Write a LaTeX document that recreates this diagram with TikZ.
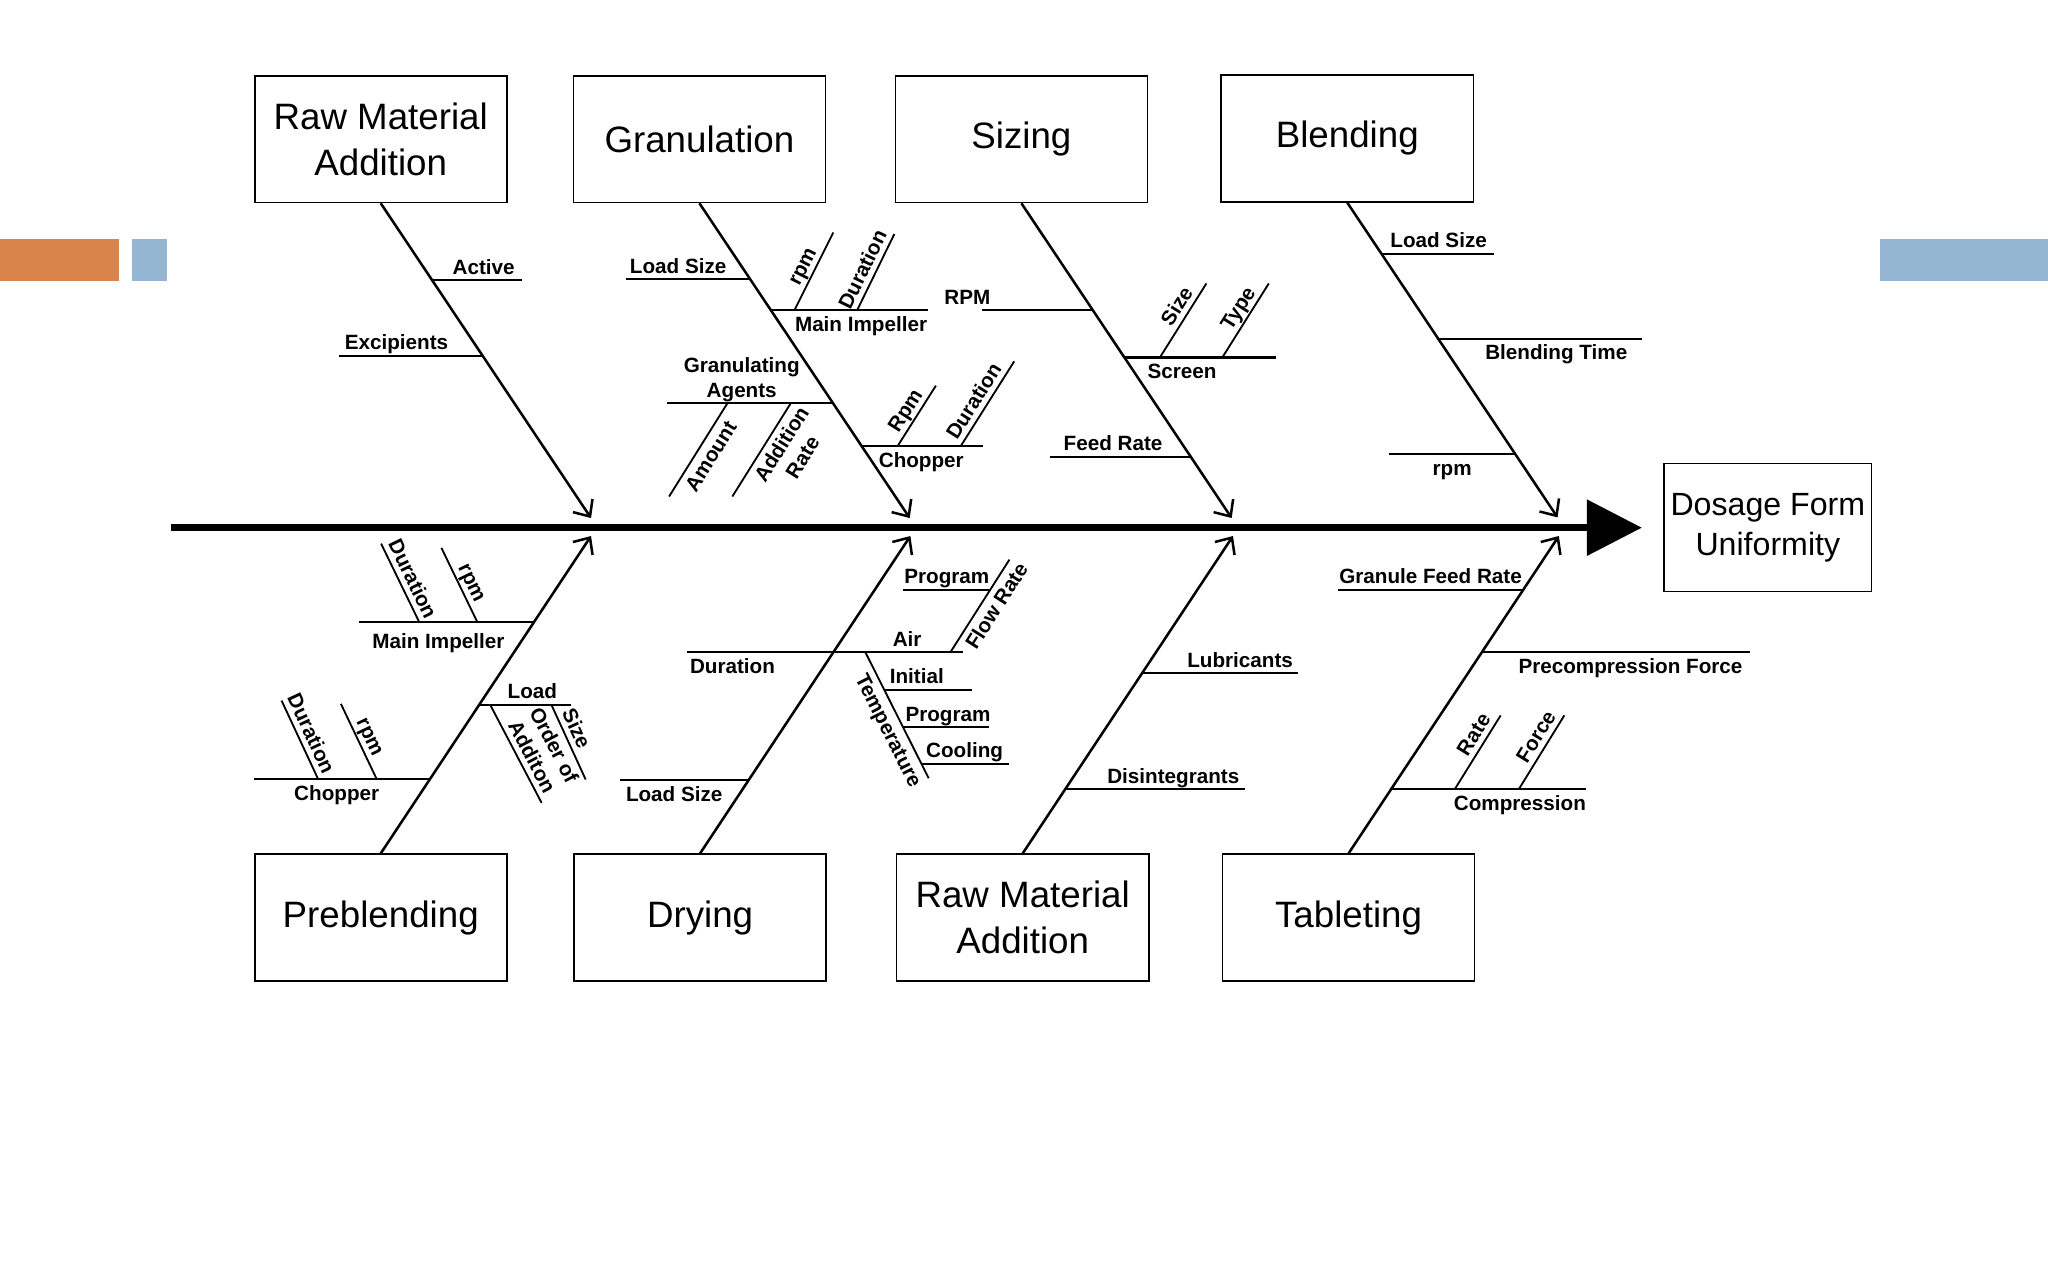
\documentclass[tikz,border=0pt]{standalone}
\usepackage{fontspec}
\setmainfont{Liberation Sans}
\usetikzlibrary{arrows.meta,calc}
\definecolor{barorange}{HTML}{D9844A}
\definecolor{barblue}{HTML}{94B6D2}
\tikzset{
  cause/.style={draw, line width=0.35pt, minimum width=19.3mm, minimum height=9.7mm, inner sep=0pt, align=center, font=\fontsize{8pt}{10pt}\selectfont},
  effect/.style={draw, line width=0.35pt, minimum width=15.9mm, minimum height=9.8mm, inner sep=0pt, align=center, font=\fontsize{7pt}{8.6pt}\selectfont},
  spine/.style={line width=1.4pt, -{Triangle[length=4.2mm,width=4.2mm]}},
  bone/.style={line width=0.55pt, -{Straight Barb[length=1mm,width=1.8mm]}},
  rib/.style={line width=0.45pt},
  twig/.style={line width=0.4pt},
  lbl/.style={font=\fontsize{4.5pt}{5.4pt}\selectfont\bfseries, inner sep=1.1pt, align=center},
  lblup/.style={lbl, above, text depth=0pt},
  lbldn/.style={lbl, below, text height=3.3pt, text depth=0.9pt}
}
\begin{document}
\begin{tikzpicture}[x=0.1mm, y=-0.1mm]
\useasboundingbox (0,0) rectangle (1568,980);
% slide bars
\fill[barorange] (0,183) rectangle (91,215);
\fill[barblue] (101,183) rectangle (128,215);
\fill[barblue] (1439,183) rectangle (1568,215);

% causes and effect
\node[cause] (rmaTop) at (291.5,106.5) {Raw Material\\Addition};
\node[cause] (gran) at (535.5,106.5) {Granulation};
\node[cause] (siz) at (782,106.5) {Sizing};
\node[cause] (blend) at (1031.5,106) {Blending};
\node[cause] (preb) at (291.5,702.5) {Preblending};
\node[cause] (dry) at (536,702.5) {Drying};
\node[cause] (rmaBot) at (783,702.5) {Raw Material\\Addition};
\node[cause] (tab) at (1032.5,702.5) {Tableting};
\node[effect] (dfu) at (1353.5,404) {Dosage Form\\Uniformity};

% spine
\coordinate (tail) at (131,404);
\coordinate (head) at (1257,404);
\draw[spine] (tail) -- (head);

% main bones
\draw[bone] (rmaTop.south) -- ++(161,241) coordinate (rmaTopE);
\draw[bone] (gran.south) -- ++(161,241) coordinate (granE);
\draw[bone] (siz.south) -- ++(161,241) coordinate (sizE);
\draw[bone] (blend.south) -- ++(161,241) coordinate (blendE);
\draw[bone] (preb.north) -- ++(161,-243) coordinate (prebE);
\draw[bone] (dry.north) -- ++(161,-243) coordinate (dryE);
\draw[bone] (rmaBot.north) -- ++(161,-243) coordinate (rmaBotE);
\draw[bone] (tab.north) -- ++(161,-243) coordinate (tabE);

% raw material addition (top)
\draw[rib] ($(rmaTop.south)!0.245!(rmaTopE)$) -- ++(69,0) node[lblup, pos=0.57] (lbActive) {Active};
\draw[rib] ($(rmaTop.south)!0.485!(rmaTopE)$) -- ++(-110,0) node[lblup, pos=0.6] (lbExcip) {Excipients};

% granulation
\draw[rib] ($(gran.south)!0.241!(granE)$) -- ++(-95,0) node[lblup, pos=0.58] (lbGLoad) {Load Size};
\draw[rib] ($(gran.south)!0.34!(granE)$) -- ++(120,0) coordinate[pos=0.15] (miRpm) coordinate[pos=0.55] (miDur)
  node[lbldn, pos=0.575] (lbGMain) {Main Impeller};
\draw[twig] (miRpm) -- ++(29.8,-59.6) node[lblup, pos=0.49, sloped] (lbGMRpm) {rpm};
\draw[twig] (miDur) -- ++(28.5,-58.4) node[lblup, pos=0.46, sloped] (lbGMDur) {Duration};
\draw[rib] ($(gran.south)!0.635!(granE)$) -- ++(-127,0) coordinate[pos=0.636] (gaAmt) coordinate[pos=0.254] (gaRate)
  node[lblup, pos=0.55] (lbGAgent) {Granulating\\Agents};
\draw[twig] (gaAmt) -- ++(-44.7,71.5) node[lbldn, pos=0.49, sloped] (lbAmt) {Amount};
\draw[twig] (gaRate) -- ++(-44.8,71.5) node[lbl, below, pos=0.36, sloped] (lbAddRate) {Addition\\Rate};
\draw[rib] ($(gran.south)!0.772!(granE)$) -- ++(93,0) coordinate[pos=0.294] (chRpm) coordinate[pos=0.814] (chDur)
  node[lbldn, pos=0.49] (lbGChop) {Chopper};
\draw[twig] (chRpm) -- ++(29.4,-46.4) node[lblup, pos=0.48, sloped] (lbGCRpm) {Rpm};
\draw[twig] (chDur) -- ++(41,-65) node[lblup, pos=0.45, sloped] (lbGCDur) {Duration};

% sizing
\draw[rib] ($(siz.south)!0.34!(sizE)$) -- ++(-85,0) node[lblup, pos=1.13] (lbSRpm) {RPM};
\draw[rib] ($(siz.south)!0.49!(sizE)$) -- ++(116,0) coordinate[pos=0.234] (scSize) coordinate[pos=0.646] (scType)
  node[lbldn, pos=0.38] (lbScreen) {Screen};
\draw[twig] (scSize) -- ++(35.6,-56.7) node[lblup, pos=0.6, sloped] (lbSSize) {Size};
\draw[twig] (scType) -- ++(35.6,-56.7) node[lblup, pos=0.57, sloped] (lbSType) {Type};
\draw[rib] ($(siz.south)!0.805!(sizE)$) -- ++(-108,0) node[lblup, pos=0.55] (lbFeed) {Feed Rate};

% blending
\draw[rib] ($(blend.south)!0.162!(blendE)$) -- ++(86,0) node[lblup, pos=0.51] (lbBLoad) {Load Size};
\draw[rib] ($(blend.south)!0.432!(blendE)$) -- ++(156,0) node[lbldn, pos=0.58] (lbBTime) {Blending Time};
\draw[rib] ($(blend.south)!0.80!(blendE)$) -- ++(-97,0) node[lbldn, pos=0.5] (lbBRpm) {rpm};

% preblending
\draw[rib] ($(preb.north)!0.728!(prebE)$) -- ++(-134,0) coordinate[pos=0.654] (pmDur) coordinate[pos=0.322] (pmRpm)
  node[lbldn, pos=0.545, yshift=-0.35mm] (lbPMain) {Main Impeller};
\draw[twig] (pmDur) -- ++(-29.3,-60.3) node[lblup, pos=0.48, sloped] (lbPMDur) {Duration};
\draw[twig] (pmRpm) -- ++(-27.6,-57) node[lblup, pos=0.46, sloped] (lbPMRpm) {rpm};
\draw[rib] ($(preb.north)!0.469!(prebE)$) -- ++(70,0) coordinate[pos=0.117] (ldOrd) coordinate[pos=0.787] (ldSize)
  node[lblup, pos=0.58] (lbPLoad) {Load};
\draw[twig] (ldSize) -- ++(26.3,57.4) node[lblup, pos=0.39, sloped] (lbPSize) {Size};
\draw[twig] (ldOrd) -- ++(39.5,75.3) node[lblup, pos=0.59, sloped] (lbPOrder) {Order of\\Additon};
\draw[rib] ($(preb.north)!0.235!(prebE)$) -- ++(-135,0) coordinate[pos=0.636] (cpDur) coordinate[pos=0.304] (cpRpm)
  node[lbldn, pos=0.53] (lbPChop) {Chopper};
\draw[twig] (cpDur) -- ++(-27.9,-59.9) node[lblup, pos=0.51, sloped] (lbPCDur) {Duration};
\draw[twig] (cpRpm) -- ++(-27.3,-57.4) node[lblup, pos=0.49, sloped] (lbPCRpm) {rpm};

% drying
\draw[rib] ($(dry.north)!0.634!(dryE)$) coordinate (dyJ) -- ++(-112,0) node[lbldn, pos=0.69] (lbDDur) {Duration};
\draw[rib] (dyJ) -- ++(99,0) coordinate[pos=0.905] (dyFlow) coordinate[pos=0.247] (dyTemp)
  node[lblup, pos=0.57] (lbAir) {Air};
\draw[twig] (dyFlow) -- ++(45.2,-70.9) coordinate[pos=0.673] (flProg) node[lbldn, pos=0.58, sloped] (lbFlow) {Flow Rate};
\draw[rib] (flProg) -- ++(-66.4,0) node[lblup, pos=0.5] (lbAProg) {Program};
\draw[twig] (dyTemp) -- ++(48.5,96.5) coordinate[pos=0.30] (tpInit) coordinate[pos=0.596] (tpProg) coordinate[pos=0.887] (tpCool)
  node[lbldn, pos=0.57, sloped] (lbTemp) {Temperature};
\draw[rib] (tpInit) -- ++(67.2,0) node[lblup, pos=0.37] (lbInit) {Initial};
\draw[rib] (tpProg) -- ++(66.1,0) node[lblup, pos=0.52] (lbTProg) {Program};
\draw[rib] (tpCool) -- ++(67.3,0) node[lblup, pos=0.49] (lbCool) {Cooling};
\draw[rib] ($(dry.north)!0.230!(dryE)$) -- ++(-98,0) node[lbldn, pos=0.58] (lbDLoad) {Load Size};

% raw material addition (bottom)
\draw[rib] ($(rmaBot.north)!0.568!(rmaBotE)$) -- ++(119,0) node[lblup, pos=0.63] (lbLub) {Lubricants};
\draw[rib] ($(rmaBot.north)!0.202!(rmaBotE)$) -- ++(138,0) node[lblup, pos=0.6] (lbDis) {Disintegrants};

% tableting
\draw[rib] ($(tab.north)!0.831!(tabE)$) -- ++(-142,0) node[lblup, pos=0.5] (lbGran) {Granule Feed Rate};
\draw[rib] ($(tab.north)!0.634!(tabE)$) -- ++(205,0) node[lbldn, pos=0.555] (lbPre) {Precompression Force};
\draw[rib] ($(tab.north)!0.202!(tabE)$) -- ++(149.5,0) coordinate[pos=0.326] (cmRate) coordinate[pos=0.654] (cmForce)
  node[lbldn, pos=0.66] (lbComp) {Compression};
\draw[twig] (cmRate) -- ++(35.2,-56.6) node[lblup, pos=0.65, sloped] (lbTRate) {Rate};
\draw[twig] (cmForce) -- ++(34.9,-56.6) node[lblup, pos=0.62, sloped] (lbTForce) {Force};
\end{tikzpicture}
\end{document}
